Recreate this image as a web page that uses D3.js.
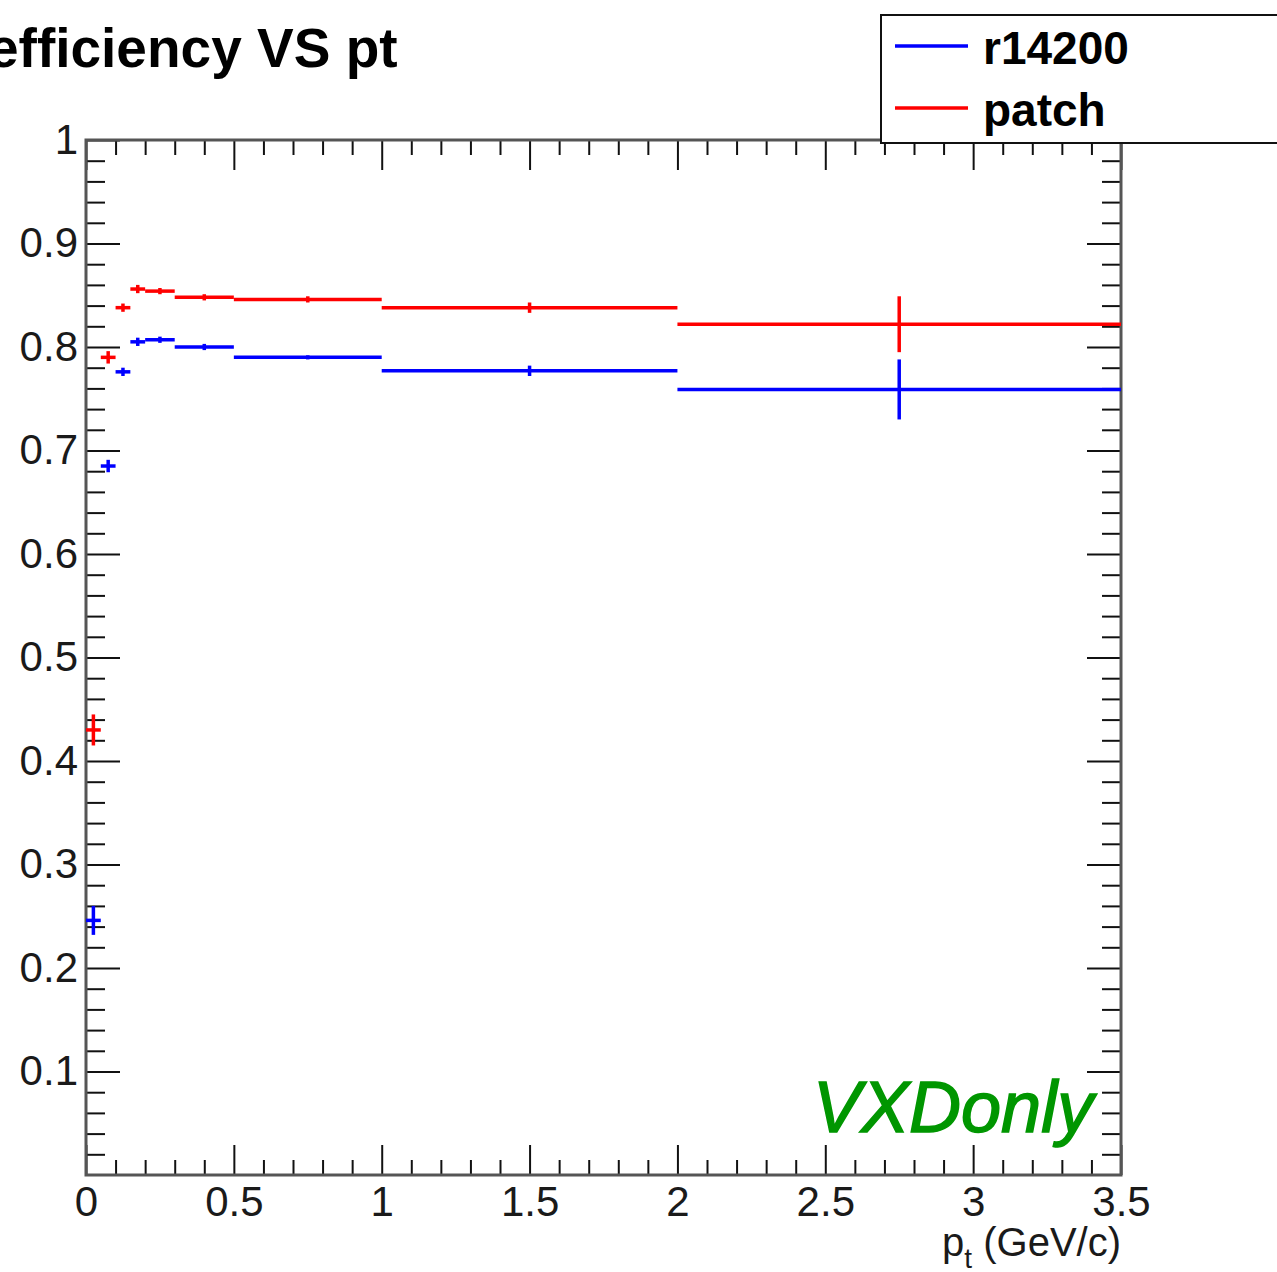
<!DOCTYPE html>
<html>
<head>
<meta charset="utf-8">
<script src="https://cdn.jsdelivr.net/npm/d3@7"></script>
<style>
  body { margin: 0; background: #fff; }
  svg { display: block; font-family: "Liberation Sans", Arial, sans-serif; }
</style>
</head>
<body>
<div id="chart"></div>
<script>
// variable-width pt bins (GeV/c)
const binEdges = [0, 0.05, 0.1, 0.15, 0.2, 0.3, 0.5, 1, 2, 3.5];

const effR14200 = [0.246, 0.685, 0.776, 0.805, 0.807, 0.800, 0.790, 0.777, 0.759];
const errR14200 = [0.014, 0.006, 0.004, 0.004, 0.003, 0.003, 0.002, 0.005, 0.029];

const effPatch = [0.430, 0.790, 0.838, 0.856, 0.854, 0.848, 0.846, 0.838, 0.822];
const errPatch = [0.015, 0.006, 0.004, 0.004, 0.003, 0.003, 0.003, 0.005, 0.027];

const yTicks = [0.1, 0.2, 0.3, 0.4, 0.5, 0.6, 0.7, 0.8, 0.9, 1];
const xTicks = [0, 0.5, 1, 1.5, 2, 2.5, 3, 3.5];

const series = [
  { name: 'r14200', color: '#0000ff', eff: effR14200, err: errR14200 },
  { name: 'patch', color: '#ff0000', eff: effPatch, err: errPatch }
];

const W = 1277, H = 1272;
const frame = { left: 86, right: 1121, top: 140, bottom: 1175 };

const svg = d3.select('#chart').append('svg')
  .attr('width', W).attr('height', H);

const x = d3.scaleLinear().domain([0, 3.5]).range([frame.left, frame.right]);
const y = d3.scaleLinear().domain([0, 1]).range([frame.bottom, frame.top]);

// minor tick values
const xMinor = d3.range(0, 36).map(i => i / 10).filter(v => Math.abs(v * 2 - Math.round(v * 2)) > 1e-6);
const yMinor = d3.range(1, 50).map(i => i / 50).filter(v => Math.abs(v * 10 - Math.round(v * 10)) > 1e-6);

// --- title ---
svg.append('text')
  .attr('x', -12).attr('y', 67)
  .attr('font-size', 55).attr('font-weight', 'bold')
  .text('efficiency VS pt');

// --- axes (ticks pointing inward, ROOT style) ---
function styleAxis(g) {
  g.select('.domain').remove();
  g.selectAll('line').attr('stroke', '#111').attr('stroke-width', 2);
}

svg.append('g').attr('transform', `translate(${frame.left},0)`)
  .call(d3.axisLeft(y).tickValues(yTicks).tickSize(-34).tickFormat(d3.format('')))
  .call(styleAxis)
  .call(g => g.selectAll('text')
    .attr('x', -8).attr('font-size', 42).attr('fill', '#1a1a1a')
    .attr('font-family', '"Liberation Sans", Arial, sans-serif'));

svg.append('g').attr('transform', `translate(${frame.left},0)`)
  .call(d3.axisLeft(y).tickValues(yMinor).tickSize(-19).tickFormat(''))
  .call(styleAxis);

svg.append('g').attr('transform', `translate(${frame.right},0)`)
  .call(d3.axisRight(y).tickValues(yTicks).tickSize(-34).tickFormat(''))
  .call(styleAxis);
svg.append('g').attr('transform', `translate(${frame.right},0)`)
  .call(d3.axisRight(y).tickValues(yMinor).tickSize(-19).tickFormat(''))
  .call(styleAxis);

svg.append('g').attr('transform', `translate(0,${frame.bottom})`)
  .call(d3.axisBottom(x).tickValues(xTicks).tickSize(-30).tickFormat(d3.format('')))
  .call(styleAxis)
  .call(g => g.selectAll('text')
    .attr('y', 11).attr('dy', '0.71em').attr('font-size', 42).attr('fill', '#1a1a1a')
    .attr('font-family', '"Liberation Sans", Arial, sans-serif'));
svg.append('g').attr('transform', `translate(0,${frame.bottom})`)
  .call(d3.axisBottom(x).tickValues(xMinor).tickSize(-15).tickFormat(''))
  .call(styleAxis);

svg.append('g').attr('transform', `translate(0,${frame.top})`)
  .call(d3.axisTop(x).tickValues(xTicks).tickSize(-30).tickFormat(''))
  .call(styleAxis);
svg.append('g').attr('transform', `translate(0,${frame.top})`)
  .call(d3.axisTop(x).tickValues(xMinor).tickSize(-15).tickFormat(''))
  .call(styleAxis);

// frame
svg.append('rect')
  .attr('x', frame.left).attr('y', frame.top)
  .attr('width', frame.right - frame.left).attr('height', frame.bottom - frame.top)
  .attr('fill', 'none').attr('stroke', '#555').attr('stroke-width', 3);

// x axis title
const xt = svg.append('text')
  .attr('x', frame.right).attr('y', 1256)
  .attr('text-anchor', 'end').attr('font-size', 40).attr('fill', '#1a1a1a');
xt.append('tspan').text('p');
xt.append('tspan').attr('font-size', 28).attr('dy', 12).text('t');
xt.append('tspan').attr('dy', -12).text(' (GeV/c)');

// --- histograms with error bars ---
const bins = binEdges.slice(0, -1).map((lo, i) => ({ lo, hi: binEdges[i + 1], i }));

series.forEach(s => {
  const g = svg.append('g').attr('class', 'hist-' + s.name)
    .attr('stroke', s.color).attr('stroke-width', 3.5);

  g.selectAll('.hbar')
    .data(bins).enter().append('line')
    .attr('class', 'hbar')
    .attr('x1', d => x(d.lo)).attr('x2', d => x(d.hi))
    .attr('y1', d => y(s.eff[d.i])).attr('y2', d => y(s.eff[d.i]));

  g.selectAll('.ebar')
    .data(bins).enter().append('line')
    .attr('class', 'ebar')
    .attr('x1', d => x((d.lo + d.hi) / 2)).attr('x2', d => x((d.lo + d.hi) / 2))
    .attr('y1', d => y(s.eff[d.i] - s.err[d.i])).attr('y2', d => y(s.eff[d.i] + s.err[d.i]));
});

// --- VXDonly label ---
svg.append('text')
  .attr('x', 813).attr('y', 1132)
  .attr('font-size', 72).attr('font-style', 'italic')
  .attr('fill', '#009600').attr('stroke', '#009600').attr('stroke-width', 1.5)
  .text('VXDonly');

// --- legend ---
const leg = svg.append('g');
leg.append('rect')
  .attr('x', 881).attr('y', 15).attr('width', 420).attr('height', 128)
  .attr('fill', '#fff').attr('stroke', '#111').attr('stroke-width', 2);

series.forEach((s, i) => {
  const ly = 46 + i * 62;
  leg.append('line')
    .attr('x1', 895).attr('x2', 968).attr('y1', ly).attr('y2', ly)
    .attr('stroke', s.color).attr('stroke-width', 3.5);
  leg.append('text')
    .attr('x', 983).attr('y', ly + 18)
    .attr('font-size', 46).attr('font-weight', 'bold')
    .text(s.name);
});
</script>
</body>
</html>
